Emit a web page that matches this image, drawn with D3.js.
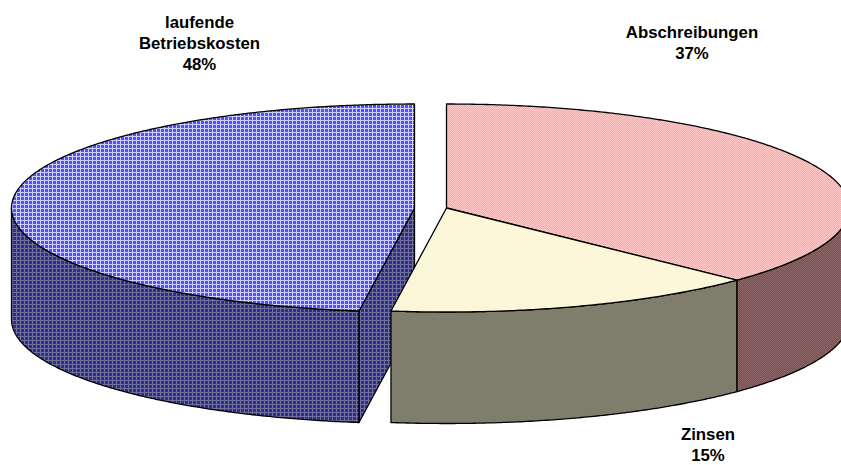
<!DOCTYPE html>
<html><head><meta charset="utf-8">
<script src="https://cdn.jsdelivr.net/npm/d3@7"></script>
<style>html,body{margin:0;padding:0;background:#fff}svg{display:block}text{font-family:"Liberation Sans",Arial,sans-serif;font-weight:700;font-size:16.8px;fill:#000;text-anchor:middle}</style>
</head><body><div id="c"></div>
<script>
const categories = ["Abschreibungen", "Zinsen", "laufende Betriebskosten"];
const values = [37.2, 15.0, 47.8];
const percentLabels = ["37%", "15%", "48%"];
const W = 841, H = 465;
const svg = d3.select("#c").append("svg").attr("width", W).attr("height", H);
const defs = svg.append("defs");

function pat(id, size, bg, rects) {
  const p = defs.append("pattern").attr("id", id).attr("patternUnits", "userSpaceOnUse")
    .attr("width", size).attr("height", size);
  p.append("rect").attr("width", size).attr("height", size).attr("fill", bg);
  rects.forEach(r => p.append("rect").attr("x", r[0]).attr("y", r[1]).attr("width", r[2]).attr("height", r[3]).attr("fill", r[4]));
}
pat("blueTop", 4, "#5050ff", [[0,0,1,4,"#d0d0ff"],[0,0,4,1,"#d0d0ff"]]);
pat("blueSide", 4, "#2e2e90", [[0,0,1,4,"#70709c"],[0,0,4,1,"#70709c"]]);
pat("pinkTop", 2, "#ffaaaa", [[0,0,1,1,"#ffc6c6"],[1,1,1,1,"#ffc6c6"]]);
pat("pinkSide", 2, "#765458", [[0,0,1,1,"#8a6464"],[1,1,1,1,"#8a6464"]]);
pat("yellowTop", 2, "#fff2c8", [[0,0,1,1,"#fffadc"],[1,1,1,1,"#fffadc"]]);
pat("yellowSide", 2, "#797767", [[0,0,1,1,"#858371"],[1,1,1,1,"#858371"]]);

const topFill = ["url(#pinkTop)", "url(#yellowTop)", "url(#blueTop)"];
const sideFill = ["url(#pinkSide)", "url(#yellowSide)", "url(#blueSide)"];
const centerX = [446.5, 446.5, 414.5];
const cy = 208, rx = 403, ry = 104, depth = 111.5;
const drawOrder = [2, 0, 1];

const arcs = d3.pie().sort(null).value(d => d)(values);
const line = d3.line();
const sample = (a, b) => { const n = Math.max(2, Math.ceil(Math.abs(b - a) * 120)); return d3.range(n + 1).map(i => a + (b - a) * i / n); };

drawOrder.forEach(i => {
  const d = arcs[i];
  const px = d3.scaleLinear().domain([-1, 1]).range([centerX[i] - rx, centerX[i] + rx]);
  const py = d3.scaleLinear().domain([-1, 1]).range([cy - ry, cy + ry]);
  const pt = (t, z = 0) => [px(Math.sin(t)), py(-Math.cos(t)) + z];
  const g = svg.append("g");
  const style = s => s.attr("stroke", "#000").attr("stroke-width", 1.3).attr("stroke-linejoin", "round");

  // Inner cut wall for the exploded slice (its end edge faces the viewer)
  if (i === 2) {
    const e = pt(d.startAngle), c = [px(0), py(0)];
    style(g.append("path").attr("fill", sideFill[i]))
      .attr("d", line([e, c, [c[0], c[1] + depth], [e[0], e[1] + depth]]) + "Z");
  }
  // Front wall: the part of the rim between 90 and 270 degrees
  const a0 = Math.max(d.startAngle, Math.PI / 2), a1 = Math.min(d.endAngle, 3 * Math.PI / 2);
  if (a1 > a0) {
    const ts = sample(a0, a1);
    const pts = ts.map(t => pt(t)).concat(ts.slice().reverse().map(t => pt(t, depth)));
    style(g.append("path").attr("fill", sideFill[i])).attr("d", line(pts) + "Z");
  }
  // Top face
  const rim = sample(d.startAngle, d.endAngle).map(t => pt(t));
  style(g.append("path").attr("fill", topFill[i]))
    .attr("d", line([[px(0), py(0)], ...rim]) + "Z");
});

const labelLines = [[categories[0], percentLabels[0]], [categories[1], percentLabels[1]], ["laufende", "Betriebskosten", percentLabels[2]]];
const labelX = [692, 708, 199.5];
const labelY = [38, 440, 27.5];
const lineGap = 21.3;
labelLines.forEach((ls, i) => {
  const t = svg.append("text");
  ls.forEach((s, j) => t.append("tspan").attr("x", labelX[i]).attr("y", labelY[i] + j * lineGap).text(s));
});
</script></body></html>
